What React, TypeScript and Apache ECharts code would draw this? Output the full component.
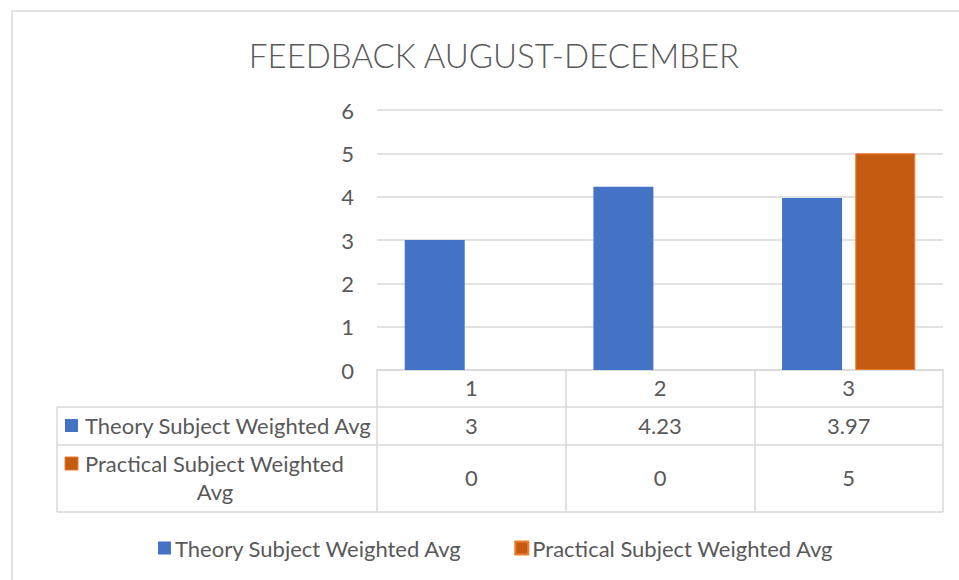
import React, { useEffect, useRef } from "react";
import * as echarts from "echarts";

const TITLE = "FEEDBACK AUGUST-DECEMBER";
const categories = ["1", "2", "3"];
const seriesNames = ["Theory Subject Weighted Avg", "Practical Subject Weighted Avg"];
const theoryValues = [3, 4.23, 3.97];
const practicalValues = [0, 0, 5];
const yTicks = [0, 1, 2, 3, 4, 5, 6];

const BLUE = "#4472C4";
const ORANGE = "#C55A11";
const ORANGE_EDGE = "#ED7D31";
const GRID = "#D9D9D9";
const TEXT = "#595959";
const FONT = "Lato";
const FS = 22;

export default function App() {
  const ref = useRef<HTMLDivElement>(null);
  useEffect(() => {
    if (!ref.current) return;
    const chart = echarts.init(ref.current, null, { renderer: "svg" });
    const gridLeft = 377;
    const gridRight = 943;
    const gridTop = 110;
    const axisY = 370;
    const option: any = {
      animation: false,
      backgroundColor: "#fff",
      title: {
        text: TITLE,
        left: 489,
        top: 33,
        textAlign: "center",
        textStyle: { fontFamily: FONT, fontWeight: 300, fontSize: 33, color: TEXT },
      },
      grid: { left: gridLeft, right: 959 - gridRight, top: gridTop, bottom: 580 - axisY },
      xAxis: {
        type: "category",
        data: categories,
        axisLine: { lineStyle: { color: GRID, width: 1.5 } },
        axisTick: { show: true, length: 142, lineStyle: { color: GRID, width: 1.5 } },
        axisLabel: { margin: 6, fontFamily: FONT, fontSize: FS, color: TEXT },
      },
      yAxis: {
        type: "value",
        min: yTicks[0],
        max: yTicks[yTicks.length - 1],
        interval: 1,
        axisLine: { show: false },
        axisTick: { show: false },
        splitLine: { lineStyle: { color: GRID, width: 1.5 } },
        axisLabel: { margin: 23, fontFamily: FONT, fontSize: FS, color: TEXT },
      },
      legend: {
        left: 153,
        top: 532,
        itemWidth: 13,
        itemHeight: 13,
        itemGap: 52,
        icon: "rect",
        textStyle: { fontFamily: FONT, fontSize: FS, color: TEXT, padding: [0, 0, 0, -1] },
        data: seriesNames,
      },
      series: [
        {
          name: seriesNames[0],
          type: "bar",
          data: theoryValues,
          barWidth: 60,
          barGap: "22%",
          itemStyle: { color: BLUE },
        },
        {
          name: seriesNames[1],
          type: "bar",
          data: practicalValues.map((v) =>
            v > 0 ? v : { value: v, itemStyle: { borderWidth: 0 } }
          ),
          barWidth: 60,
          itemStyle: { color: ORANGE, borderColor: ORANGE_EDGE, borderWidth: 1 },
        },
      ],
    };
    chart.setOption(option);

    const row1Top = 407;
    const row2Top = 445;
    const tableBottom = 512;
    const tableLeft = 57;
    const lineStyle = { stroke: GRID, lineWidth: 1.5 };
    const txt = { fontFamily: FONT, fontSize: FS, fill: TEXT, verticalAlign: "middle" };
    const g: any[] = [
      { type: "rect", shape: { x: 12, y: 11, width: 1000, height: 700 }, style: { fill: "none", stroke: GRID, lineWidth: 1.5 }, silent: true },
      { type: "line", shape: { x1: tableLeft, y1: row1Top, x2: gridRight, y2: row1Top }, style: lineStyle },
      { type: "line", shape: { x1: tableLeft, y1: row2Top, x2: gridRight, y2: row2Top }, style: lineStyle },
      { type: "line", shape: { x1: tableLeft, y1: tableBottom, x2: gridRight, y2: tableBottom }, style: lineStyle },
      { type: "line", shape: { x1: tableLeft, y1: row1Top, x2: tableLeft, y2: tableBottom }, style: lineStyle },
      { type: "rect", shape: { x: 65, y: 419, width: 13, height: 13 }, style: { fill: BLUE } },
      { type: "text", x: 85, y: 425, style: { ...txt, text: seriesNames[0], align: "left" } },
      { type: "rect", shape: { x: 65, y: 457, width: 13, height: 13 }, style: { fill: ORANGE, stroke: ORANGE_EDGE, lineWidth: 1 } },
      { type: "text", x: 85, y: 463, style: { ...txt, text: "Practical Subject Weighted", align: "left" } },
      { type: "text", x: 215, y: 491, style: { ...txt, text: "Avg", align: "center" } },
    ];
    categories.forEach((c, i) => {
      const px = chart.convertToPixel({ xAxisIndex: 0 }, c) as number;
      g.push({ type: "text", x: px, y: 425, style: { ...txt, text: String(theoryValues[i]), align: "center" } });
      g.push({ type: "text", x: px, y: 477, style: { ...txt, text: String(practicalValues[i]), align: "center" } });
    });
    chart.setOption({ graphic: g });
    return () => chart.dispose();
  }, []);
  return (
    <div
      ref={ref}
      style={{ position: "fixed", left: 0, top: 0, width: 959, height: 580, background: "#fff" }}
    />
  );
}
